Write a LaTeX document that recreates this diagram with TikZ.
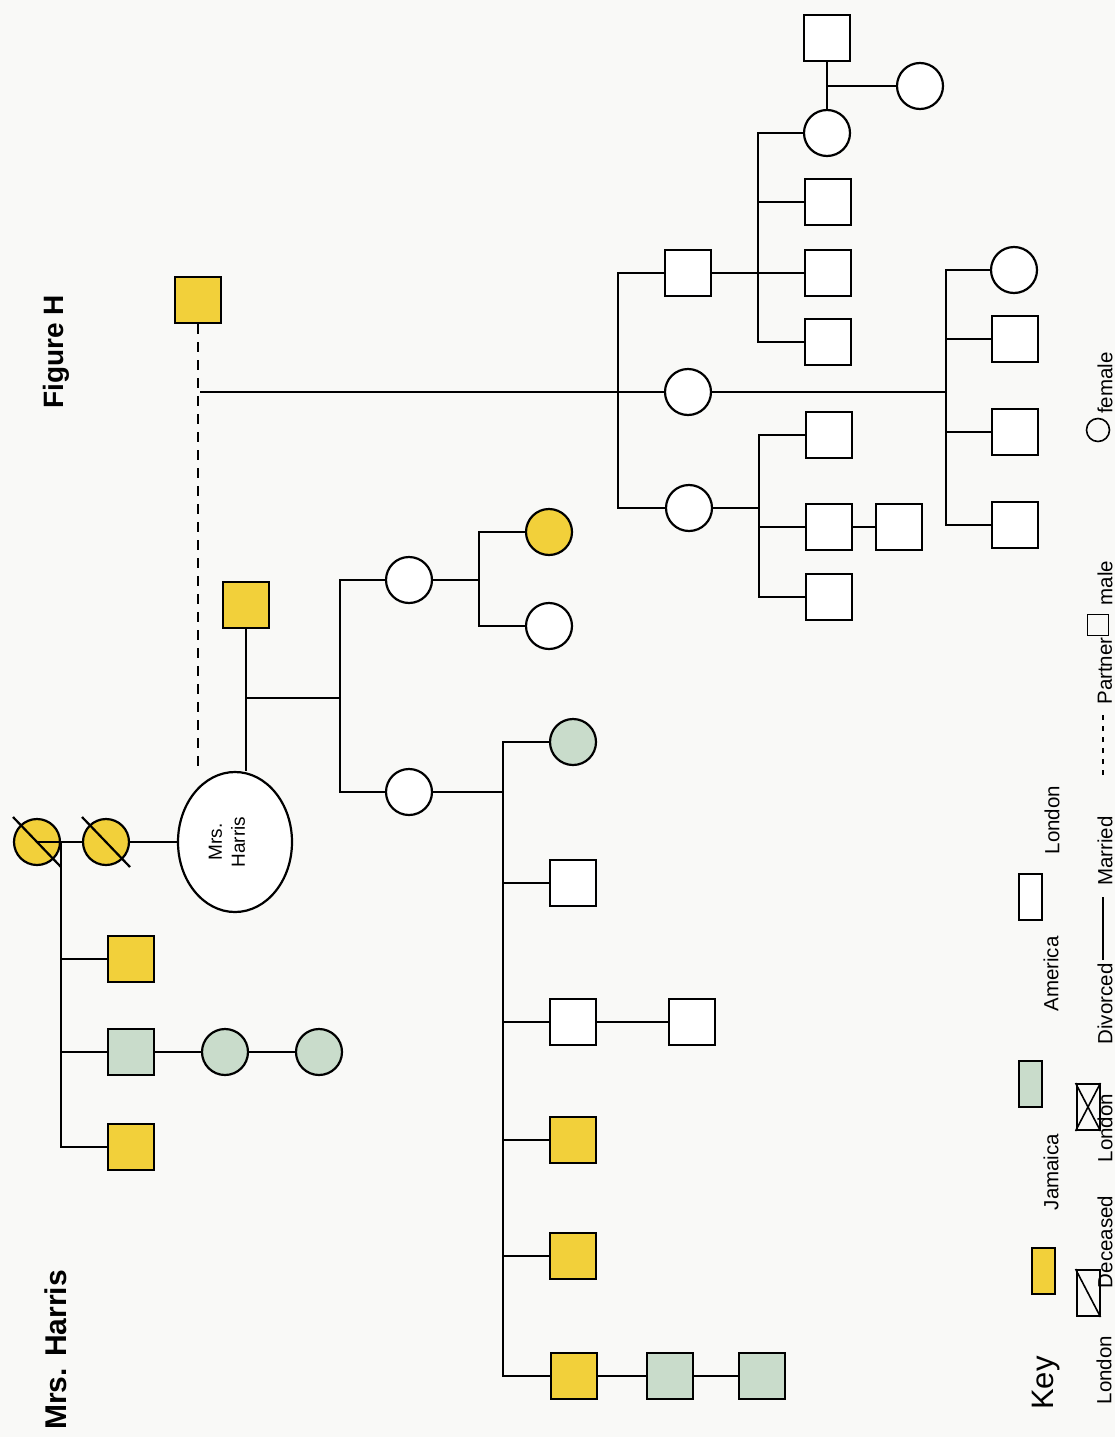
\documentclass[tikz,border=0pt]{standalone}
\usepackage{fontspec}
\setmainfont{Liberation Sans}
\usetikzlibrary{shapes.geometric,calc}
\definecolor{jam}{HTML}{F2D03A}
\definecolor{ame}{HTML}{C9DCCB}
\definecolor{paper}{HTML}{F9F9F7}
\begin{document}
\begin{tikzpicture}[x=1pt,y=-1pt,
  rel/.style={line width=2.2pt},
  partner/.style={line width=2.2pt, dash pattern=on 10pt off 8pt},
  male/.style={draw, line width=2.2pt, rectangle, minimum width=46pt, minimum height=46pt, inner sep=0pt, fill=white},
  female/.style={draw, line width=2.2pt, circle, minimum size=46pt, inner sep=0pt, fill=white},
  jamaica/.style={fill=jam},
  america/.style={fill=ame},
  lbl/.style={rotate=90, font=\fontsize{20.5}{22}\selectfont, inner sep=0pt},
  keybox/.style={draw, line width=2pt, rectangle, minimum width=23pt, minimum height=46pt, inner sep=0pt},
]
\fill[paper] (0,0) rectangle (1115,1437);
\useasboundingbox (0,0) rectangle (1115,1437);

% titles
\node[rotate=90, font=\bfseries\fontsize{30}{32}\selectfont, inner sep=0pt] (title) at (56,1350) {Mrs. Harris};
\node[rotate=90, font=\bfseries\fontsize{28}{30}\selectfont, inner sep=0pt] (fig) at (56,352) {Figure H};

% ---- Mrs. Harris and her parents' generation
\node[female, jamaica] (gA) at (37,842) {};
\node[female, jamaica] (gB) at (106,842) {};
\node[draw, line width=2.2pt, ellipse, minimum width=114pt, minimum height=140pt, inner sep=0pt, fill=white] (H) at (235,842) {};
\node[rotate=90, align=center, font=\fontsize{19}{23}\selectfont] (Hname) at (227,842) {Mrs.\\Harris};
\node[male, jamaica] (s1) at (131,959) {};
\node[male, america] (s2) at (131,1052) {};
\node[male, jamaica] (s3) at (131,1147) {};
\node[female, america] (w1) at (225,1052) {};
\node[female, america] (w2) at (319,1052) {};

% husband and partner
\node[male, jamaica] (Hp) at (246,605) {};
\node[male, jamaica] (P) at (198,300) {};

% children with the husband
\node[female] (c1) at (409,580) {};
\node[female] (c2) at (409,792) {};
\node[female, jamaica] (gc1) at (549,532) {};
\node[female] (gc2) at (549,626) {};
\node[female, america] (gc3) at (573,742) {};
\node[male] (gc4) at (573,883) {};
\node[male] (gc5) at (573,1022) {};
\node[male] (gc5p) at (692,1022) {};
\node[male, jamaica] (gc6) at (573,1140) {};
\node[male, jamaica] (gc7) at (573,1256) {};
\node[male, jamaica] (gc8) at (574,1376) {};
\node[male, america] (gc8a) at (670,1376) {};
\node[male, america] (gc8b) at (762,1376) {};

% children with the partner
\node[male] (d1) at (688,273) {};
\node[female] (d2) at (688,392) {};
\node[female] (d3) at (689,508) {};
\node[female] (e1) at (827,133) {};
\node[male] (e2) at (828,202) {};
\node[male] (e3) at (828,273) {};
\node[male] (e4) at (828,342) {};
\node[male] (ep) at (827,38) {};
\node[female] (ech) at (920,86) {};
\node[female] (f1) at (1014,270) {};
\node[male] (f2) at (1015,339) {};
\node[male] (f3) at (1015,432) {};
\node[male] (f4) at (1015,525) {};
\node[male] (g1) at (829,435) {};
\node[male] (g2) at (829,527) {};
\node[male] (g2p) at (899,527) {};
\node[male] (g3) at (829,597) {};

% deceased slashes
\foreach \n in {gA,gB}
  \draw[rel] ($(\n.center)+(-24,-25)$) -- ($(\n.center)+(24,25)$);

% bracket points
\coordinate (a1) at (61,842);
\coordinate (hm) at (246,698);
\coordinate (b1) at (340,698);
\coordinate (b2) at (479,580);
\coordinate (b3) at (503,792);
\coordinate (jP) at (200,392);
\coordinate (b4) at (618,392);
\coordinate (b5) at (758,273);
\coordinate (b6) at (946,392);
\coordinate (b7) at (759,508);
\coordinate (em) at (827,86);

% connectors
\draw[rel] (gA.center) -- (gB.west);
\draw[rel] (gB.east) -- (H.west);
\draw[rel] (a1) -- (a1 |- s3.west) -- (s3.west);
\draw[rel] (a1 |- s1.west) -- (s1.west);
\draw[rel] (a1 |- s2.west) -- (s2.west);
\draw[rel] (s2.east) -- (w1.west);
\draw[rel] (w1.east) -- (w2.west);

\draw[rel] (Hp.south) -- (Hp.south |- H.north);
\draw[rel] (hm) -- (b1);
\draw[rel] (c1.west) -- (b1 |- c1.west) -- (b1 |- c2.west) -- (c2.west);
\draw[rel] (c1.east) -- (b2);
\draw[rel] (gc1.west) -- (b2 |- gc1.west) -- (b2 |- gc2.west) -- (gc2.west);
\draw[rel] (c2.east) -- (b3);
\draw[rel] (gc3.west) -- (b3 |- gc3.west) -- (b3 |- gc8.west) -- (gc8.west);
\foreach \n in {gc4,gc5,gc6,gc7}
  \draw[rel] (b3 |- \n.west) -- (\n.west);
\draw[rel] (gc5.east) -- (gc5p.west);
\draw[rel] (gc8.east) -- (gc8a.west);
\draw[rel] (gc8a.east) -- (gc8b.west);

\draw[partner] (P.south) -- (P.south |- H.north);
\draw[rel] (jP) -- (d2.west);
\draw[rel] (d1.west) -- (b4 |- d1.west) -- (b4 |- d3.west) -- (d3.west);
\draw[rel] (d1.east) -- (e3.west);
\draw[rel] (e1.west) -- (b5 |- e1.west) -- (b5 |- e4.west) -- (e4.west);
\draw[rel] (b5 |- e2.west) -- (e2.west);
\draw[rel] (ep.south) -- (e1.north);
\draw[rel] (em) -- (ech.west);
\draw[rel] (d2.east) -- (b6);
\draw[rel] (f1.west) -- (b6 |- f1.west) -- (b6 |- f4.west) -- (f4.west);
\foreach \n in {f2,f3}
  \draw[rel] (b6 |- \n.west) -- (\n.west);
\draw[rel] (d3.east) -- (b7);
\draw[rel] (g1.west) -- (b7 |- g1.west) -- (b7 |- g3.west) -- (g3.west);
\draw[rel] (b7 |- g2.west) -- (g2.west);
\draw[rel] (g2.east) -- (g2p.west);

% ---- key
\node[rotate=90, font=\fontsize{31}{32}\selectfont, inner sep=0pt] (keyt) at (1046,1383) {Key};
\node[keybox, fill=jam] (kJ) at (1043,1271) {};
\node[lbl] (kJt) at (1051,1172) {Jamaica};
\node[keybox, fill=ame] (kA) at (1030,1084) {};
\node[lbl] (kAt) at (1051,974) {America};
\node[keybox, fill=white] (kL) at (1030,897) {};
\node[lbl] (kLt) at (1052,820) {London};

\node[lbl] (kL2) at (1104,1370) {London};
\node[lbl] (kDt) at (1105,1242) {Deceased};
\node[keybox] (kD) at (1088,1293) {};
\draw[line width=1.6pt] (kD.north west) -- (kD.south east);
\node[lbl] (kL3) at (1105,1128) {London};
\node[keybox] (kX) at (1088,1107) {};
\draw[line width=1.6pt] (kX.north west) -- (kX.south east);
\draw[line width=1.6pt] (kX.north east) -- (kX.south west);
\node[lbl] (kVt) at (1105,1004) {Divorced};
\coordinate (mA) at (1103,960);
\coordinate (mB) at (1103,897);
\draw[line width=1.6pt] (mA) -- (mB);
\node[lbl] (kMt) at (1105,851) {Married};
\coordinate (pA) at (1103,775);
\coordinate (pB) at (1103,712);
\draw[line width=1.6pt, dash pattern=on 5pt off 6pt] (pA) -- (pB);
\node[lbl] (kPt) at (1105,671) {Partner};
\node[draw, line width=1.6pt, minimum size=21pt, inner sep=0pt] (kMs) at (1098,625) {};
\node[lbl] (kMst) at (1105,583) {male};
\node[draw, line width=1.6pt, circle, minimum size=23pt, inner sep=0pt] (kFs) at (1098,430) {};
\node[lbl] (kFst) at (1105,383) {female};
\end{tikzpicture}
\end{document}
